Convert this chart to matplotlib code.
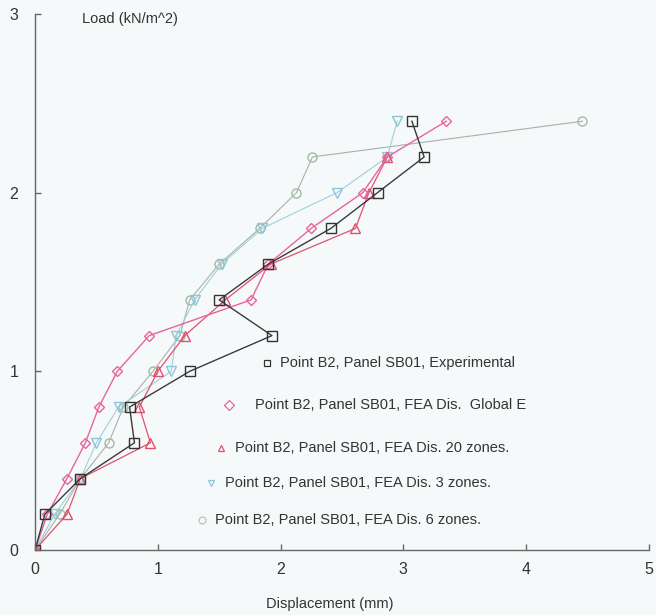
import numpy as np
import matplotlib
matplotlib.use("Agg")
import matplotlib.pyplot as plt

plt.rcParams['font.family'] = ['Liberation Sans', 'DejaVu Sans']

# Load levels (kN/m^2) shared by all series
load = [0.0, 0.2, 0.4, 0.6, 0.8, 1.0, 1.2, 1.4, 1.6, 1.8, 2.0, 2.2, 2.4]

# Displacement (mm) per series
disp_exp = [0.0, 0.08, 0.37, 0.81, 0.77, 1.26, 1.93, 1.50, 1.90, 2.41, 2.79, 3.17, 3.07]
disp_global = [0.0, 0.10, 0.26, 0.41, 0.52, 0.67, 0.93, 1.76, 1.90, 2.25, 2.67, 2.87, 3.35]
disp_20z = [0.0, 0.26, 0.37, 0.94, 0.85, 1.00, 1.22, 1.55, 1.92, 2.61, 2.72, 2.87]
disp_3z = [0.0, 0.16, 0.37, 0.50, 0.68, 1.11, 1.15, 1.30, 1.52, 1.85, 2.46, 2.87, 2.95]
disp_6z = [0.0, 0.20, 0.37, 0.60, 0.72, 0.96, 1.18, 1.26, 1.50, 1.83, 2.13, 2.26, 4.46]

labels = ["Point B2, Panel SB01, Experimental",
          "Point B2, Panel SB01, FEA Dis.  Global E",
          "Point B2, Panel SB01, FEA Dis. 20 zones.",
          "Point B2, Panel SB01, FEA Dis. 3 zones.",
          "Point B2, Panel SB01, FEA Dis. 6 zones."]

bg = '#f6f9fa'
fig = plt.figure(figsize=(6.56, 6.15), dpi=100, facecolor=bg)
ax = fig.add_axes([0.0534, 0.1057, 0.9356, 0.8715])
ax.set_facecolor(bg)

# (x data, line colour, marker colour, marker, size, line width)
series = [
    (disp_6z, '#a9b0ab', '#9fbc9f', 'o', 6.5, 0.8),
    (disp_3z, '#9fcfdc', '#8cc6d8', 'v', 6.5, 0.8),
    (disp_20z, '#e2506e', '#e2506e', '^', 6.5, 0.9),
    (disp_global, '#e8649c', '#e8649c', 'D', 5.5, 1.0),
    (disp_exp, '#3a3a3a', '#333333', 's', 7.5, 1.0),
]
for xs, lc, mc, mk, ms, lw in series:
    ax.plot(xs, load[:len(xs)], color=lc, lw=lw, marker=mk, ms=ms,
            mfc='none', mec=mc, mew=1.0)

ax.set_xlim(0, 5)
ax.set_ylim(0, 3)
ax.set_xticks(range(6))
ax.set_yticks(range(4))
for s in ['top', 'right']:
    ax.spines[s].set_visible(False)
for s in ['left', 'bottom']:
    ax.spines[s].set_color('#666666')
    ax.spines[s].set_linewidth(1.0)
ax.tick_params(direction='in', length=4, width=1, color='#666666',
               labelsize=11.5, labelcolor='#333333')
ax.tick_params(axis='x', pad=9)
ax.tick_params(axis='y', pad=12)

ax.text(0.077, 0.99, "Load (kN/m^2)", transform=ax.transAxes,
        fontsize=10.5, color='#333333', va='center', ha='left')
ax.set_xlabel("Displacement (mm)", fontsize=10.5, color='#333333')
ax.xaxis.set_label_coords(0.48, -0.088)

# staggered legend entries
leg_mk = [('s', '#333333'), ('D', '#e8649c'), ('^', '#e2506e'),
          ('v', '#8cc6d8'), ('o', '#b8c4b8')]
leg_pos = [(0.378, 0.349, 0.399), (0.316, 0.271, 0.358), (0.303, 0.190, 0.326),
           (0.287, 0.125, 0.309), (0.272, 0.056, 0.293)]
for (mk, mc), (mx, my, tx), lab in zip(leg_mk, leg_pos, labels):
    ax.plot([mx], [my], marker=mk, ms=5, mfc='none', mec=mc, mew=0.9,
            transform=ax.transAxes, clip_on=False)
    ax.text(tx, my, lab, transform=ax.transAxes, fontsize=10.5,
            color='#333333', va='center', ha='left')

fig.savefig("out.png", dpi=100, facecolor=bg)
